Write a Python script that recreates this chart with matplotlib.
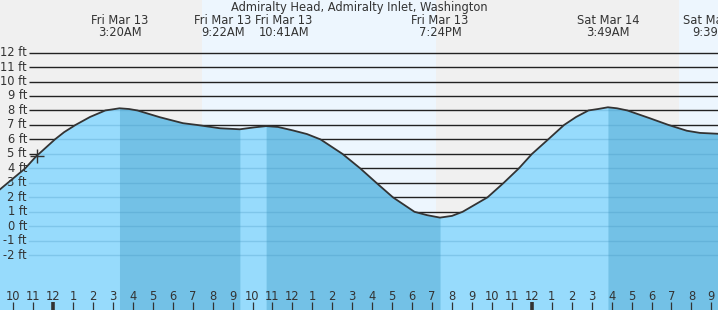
import matplotlib
matplotlib.use("Agg")
import matplotlib.pyplot as plt
from matplotlib.patches import Rectangle

# ---- data (hours since midnight Fri Mar 13, tide height in ft) ----
hours = [-2.657, -2.266, -1.393, -0.822, -0.707, 0.095, 0.556, 1.128, 1.855,
         2.622, 3.008, 3.333, 3.810, 4.231, 5.363, 6.516, 7.213, 8.371, 9.367,
         10.07, 10.683, 11.28, 12.03, 12.73, 13.41, 14.51, 15.40, 16.21, 17.04,
         18.12, 18.75, 19.40, 20.00, 20.53, 21.78, 22.59, 23.35, 24.01, 24.82,
         25.62, 26.22, 26.84, 27.32, 27.817, 28.27, 28.79, 29.92, 30.85, 31.77,
         32.43, 33.333]
heights = [2.55, 3.0, 4.0, 4.87, 5.0, 6.0, 6.5, 7.0, 7.55,
           8.0, 8.08, 8.15, 8.1, 8.0, 7.53, 7.12, 7.0, 6.77, 6.70,
           6.83, 6.92, 6.86, 6.62, 6.37, 6.0, 5.0, 4.0, 3.0, 2.0,
           1.0, 0.77, 0.60, 0.72, 1.0, 2.0, 3.0, 4.0, 5.0, 6.0,
           7.0, 7.55, 8.0, 8.1, 8.22, 8.15, 8.0, 7.46, 7.0, 6.6,
           6.45, 6.39]

event_hours = [3.333, 9.367, 10.683, 19.40, 27.817, 33.65]
event_types = ["H", "L", "H", "L", "H", "L"]
event_dates = ["Fri Mar 13", "Fri Mar 13", "Fri Mar 13", "Fri Mar 13", "Sat Mar 14", "Sat Mar 14"]
event_times = ["3:20AM", "9:22AM", "10:41AM", "7:24PM", "3:49AM", "9:39AM"]

day_start = [7.45, 31.38]
day_end = [19.20, 40.0]

now_hour = -0.822
now_height = 4.87

ft_levels = list(range(-2, 13))
tick_hours = list(range(-2, 34))

title = "Admiralty Head, Admiralty Inlet, Washington"

# ---- layout helpers ----
W, H = 718, 310
PX_PER_H = 19.95
X0 = 53.0          # pixel of midnight Mar 13
PX_PER_FT = 14.48
Y0 = 226.3         # pixel of 0 ft
xmin, xmax = -X0 / PX_PER_H, (W - X0) / PX_PER_H
ytop = Y0 / PX_PER_FT
ybot = (Y0 - H) / PX_PER_FT

def px2x(px):
    return (px - X0) / PX_PER_H

def py2y(py):
    return (Y0 - py) / PX_PER_FT

NIGHT = "#f0f0f0"
DAY = "#edf6fe"
WATER_LIGHT = "#97dbfc"
WATER_DARK = "#73c1e6"
TXT = "#333333"

fig = plt.figure(figsize=(W / 100, H / 100), dpi=100)
ax = fig.add_axes([0, 0, 1, 1])
ax.set_xlim(xmin, xmax)
ax.set_ylim(ybot, ytop)
ax.axis("off")
fig.patch.set_facecolor(NIGHT)

# day shading
for s, e in zip(day_start, day_end):
    ax.add_patch(Rectangle((s, ybot), e - s, ytop - ybot, color=DAY, lw=0, zorder=0))

# grid lines
gx0 = px2x(29)
for lv in ft_levels:
    ax.plot([gx0, xmax], [lv, lv], color="#222222", lw=1.0, zorder=1, solid_capstyle="butt")
    ax.text(px2x(27), lv, f"{lv} ft", ha="right", va="center", fontsize=8.3,
            color=TXT, zorder=6)

# water
poly = ax.fill_between(hours, heights, ybot, color=WATER_LIGHT, lw=0, zorder=2)
# falling-tide (dark) segments: from each high to next low
for i, t in enumerate(event_types):
    if t == "H":
        start = event_hours[i]
        end = event_hours[i + 1] if i + 1 < len(event_hours) else xmax
        pairs = [(h, v) for h, v in zip(hours, heights) if start <= h <= end]
        xs = [p[0] for p in pairs]
        ys = [p[1] for p in pairs]
        ax.fill_between(xs, ys, ybot, color=WATER_DARK, lw=0, zorder=3)

# grid lines inside water (subtle)
clip = poly.get_paths()[0]
for lv in ft_levels:
    ln, = ax.plot([gx0, xmax], [lv, lv], color="#3a8ab8", alpha=0.25, lw=1.0, zorder=4)
    ln.set_clip_path(clip, ax.transData)

# tide curve
ax.plot(hours, heights, color="#333333", lw=1.3, zorder=5, solid_joinstyle="round")
ax.plot([now_hour], [now_height], marker="+", ms=10, mew=1.0, color="#333333", zorder=6)

# title and event labels
ax.text(px2x(359), py2y(7), title, ha="center", va="center", fontsize=8.3, color=TXT)
label_shift_px = [0, -17, 17.6, 0, 0, -10]
for h, d, t, sh in zip(event_hours, event_dates, event_times, label_shift_px):
    xx = h + sh / PX_PER_H
    ax.text(xx, py2y(20), d, ha="center", va="center", fontsize=8.3, color=TXT)
    ax.text(xx, py2y(33), t, ha="center", va="center", fontsize=8.3, color=TXT)

# hour ticks
for h in tick_hours:
    lab = h % 12
    lab = 12 if lab == 0 else lab
    ax.text(h, py2y(296), str(lab), ha="center", va="center", fontsize=8.3, color=TXT, zorder=6)
    lw = 2.6 if h % 24 == 0 else 0.9
    ax.plot([h, h], [py2y(302), ybot], color="#333333", lw=lw, zorder=6, solid_capstyle="butt")

fig.savefig("out.png", dpi=100, facecolor=fig.get_facecolor())
